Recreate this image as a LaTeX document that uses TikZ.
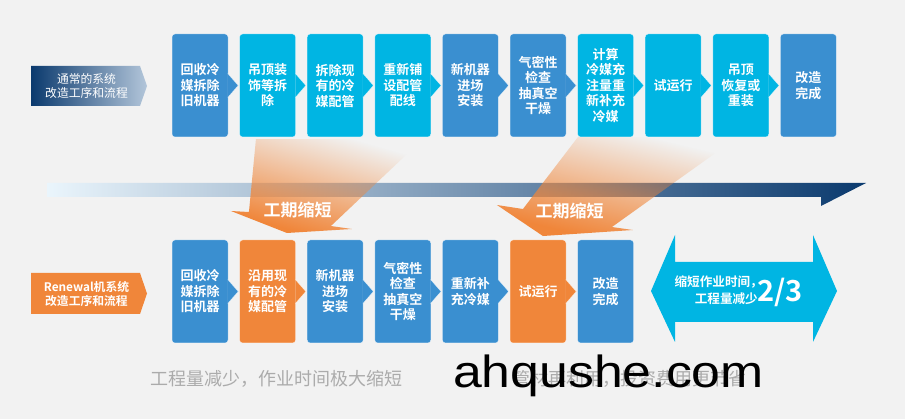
\documentclass[tikz,border=0pt]{standalone}
\usepackage{fontspec}
\newfontfamily\cjk{Noto Sans CJK SC}[BoldFont={Noto Sans CJK SC Bold}]
\newfontfamily\wmfont{Liberation Sans}
\usetikzlibrary{fadings,calc}
\definecolor{bg}{HTML}{F2F2F2}
\definecolor{bblue}{HTML}{3A8FD0}
\definecolor{bcyan}{HTML}{00B5E3}
\definecolor{borange}{HTML}{F0863A}
\definecolor{navy}{HTML}{0B3A6E}
\definecolor{navylight}{HTML}{B3C6DA}
\definecolor{bandlight}{HTML}{EAF5FC}
\definecolor{graytext}{HTML}{ABABAB}
\newcommand\boxfont{\cjk\bfseries\fontsize{13}{15.5}\selectfont}
\tikzfading[name=orfade, top color=transparent!100, middle color=transparent!45, bottom color=transparent!0]
\newcommand\chev[2]{%
  \fill[#2] ([xshift=-0.5pt]#1.east) ++(0,-12) -- ++(10.5,12) -- ++(-10.5,12) -- cycle;
  \draw[white, line width=0.5pt, opacity=0.7] ([xshift=-0.5pt]#1.east) ++(0,-12) -- ++(10.5,12) -- ++(-10.5,12);}
\begin{document}
\begin{tikzpicture}[x=1pt,y=-1pt,
  box/.style={rounded corners=3pt, minimum width=56pt, minimum height=103pt, inner sep=0pt,
    text=white, align=center, font=\boxfont, draw=white, draw opacity=0.6, line width=0.5pt},
  lbl/.style={text=white, align=center, inner sep=0pt},
  shortlbl/.style={text=white, font=\cjk\bfseries\fontsize{17}{20}\selectfont, inner sep=0pt},
  graylbl/.style={text=graytext, font=\cjk\fontsize{18}{20}\selectfont, inner sep=0pt, anchor=west}]
\useasboundingbox (0,0) rectangle (905,419);
\fill[bg] (0,0) rectangle (905,419);

% gradient band
\shade[left color=bandlight, right color=navy]
  (47,183) -- (866,183) -- (821,206) -- (821,197) -- (47,197) -- cycle;

% orange shortening arrows
\fill[borange, path fading=orfade, fading angle=-30]
  (256,139) -- (423,139) -- (331,226) -- (352,229) -- (287,233) -- (231,211) -- (249,212) -- cycle;
\fill[borange, path fading=orfade, fading angle=-30]
  (578,137) -- (738,137) -- (612,227) -- (633,230) -- (543,236) -- (497,205) -- (523,209) -- cycle;
\node[shortlbl] (s1) at (297.5,210) {工期缩短};
\node[shortlbl] (s2) at (569.5,211) {工期缩短};

% left labels
\shade[left color=navy, right color=navylight] (31,66) -- (140,66) -- (147,86) -- (140,106) -- (31,106) -- cycle;
\node[lbl, font=\cjk\fontsize{11.8}{13.5}\selectfont] (L1) at (86.5,86) {通常的系统\\改造工序和流程};
\fill[borange] (31,273) -- (140,273) -- (147,293.5) -- (140,314) -- (31,314) -- cycle;
\node[lbl, font=\cjk\bfseries\fontsize{11.8}{13.5}\selectfont] (L2) at (86.5,294) {Renewal机系统\\改造工序和流程};

% top row
\node[box, fill=bblue] (t1) at (200,85.5) {回收冷\\媒拆除\\旧机器};
\node[box, fill=bcyan] (t2) at (267.6,85.5) {吊顶装\\饰等拆\\除};
\node[box, fill=bcyan] (t3) at (335.2,85.5) {拆除现\\有的冷\\媒配管};
\node[box, fill=bcyan] (t4) at (402.8,85.5) {重新铺\\设配管\\配线};
\node[box, fill=bblue] (t5) at (470.4,85.5) {新机器\\进场\\安装};
\node[box, fill=bblue] (t6) at (538,85.5) {气密性\\检查\\抽真空\\干燥};
\node[box, fill=bcyan] (t7) at (605.6,85.5) {计算\\冷媒充\\注量重\\新补充\\冷媒};
\node[box, fill=bcyan] (t8) at (673.2,85.5) {试运行};
\node[box, fill=bcyan] (t9) at (740.8,85.5) {吊顶\\恢复或\\重装};
\node[box, fill=bblue] (t10) at (808.4,85.5) {改造\\完成};
\chev{t1}{bblue}\chev{t2}{bcyan}\chev{t3}{bcyan}\chev{t4}{bcyan}\chev{t5}{bblue}
\chev{t6}{bblue}\chev{t7}{bcyan}\chev{t8}{bcyan}\chev{t9}{bcyan}

% bottom row
\node[box, fill=bblue] (b1) at (200,291.5) {回收冷\\媒拆除\\旧机器};
\node[box, fill=borange] (b2) at (267.6,291.5) {沿用现\\有的冷\\媒配管};
\node[box, fill=bblue] (b3) at (335.2,291.5) {新机器\\进场\\安装};
\node[box, fill=bblue] (b4) at (402.8,291.5) {气密性\\检查\\抽真空\\干燥};
\node[box, fill=bblue] (b5) at (470.4,291.5) {重新补\\充冷媒};
\node[box, fill=borange] (b6) at (538,291.5) {试运行};
\node[box, fill=bblue] (b7) at (605.6,291.5) {改造\\完成};
\chev{b1}{bblue}\chev{b2}{borange}\chev{b3}{bblue}\chev{b4}{bblue}\chev{b5}{bblue}\chev{b6}{borange}

% big double arrow
\fill[bcyan] (651,291) -- (675,235) -- (675,262) -- (813,262) -- (813,235) -- (837,291)
  -- (813,342) -- (813,322) -- (675,322) -- (675,342) -- cycle;
\node[text=white, font=\cjk\bfseries\fontsize{12.6}{14}\selectfont, inner sep=0pt, anchor=east] (r1) at (763,282) {缩短作业时间，};
\node[text=white, font=\cjk\bfseries\fontsize{12.6}{14}\selectfont, inner sep=0pt, anchor=east] (r2) at (758,298.5) {工程量减少};
\node[text=white, font=\cjk\bfseries\fontsize{29}{30}\selectfont, inner sep=0pt, anchor=west] (r3) at (757,292) {2/3};

% bottom texts
\node[graylbl] (g1) at (150,379) {工程量减少，作业时间极大缩短};
\node[graylbl] (g2) at (512,379) {管材再利用，投资费用更节省};
\node[inner sep=0pt, anchor=base west, font=\wmfont\fontsize{45}{50}\selectfont] (wm) at (453,388) {\scalebox{1.15}[1]{ahqushe.com}};
\end{tikzpicture}
\end{document}
